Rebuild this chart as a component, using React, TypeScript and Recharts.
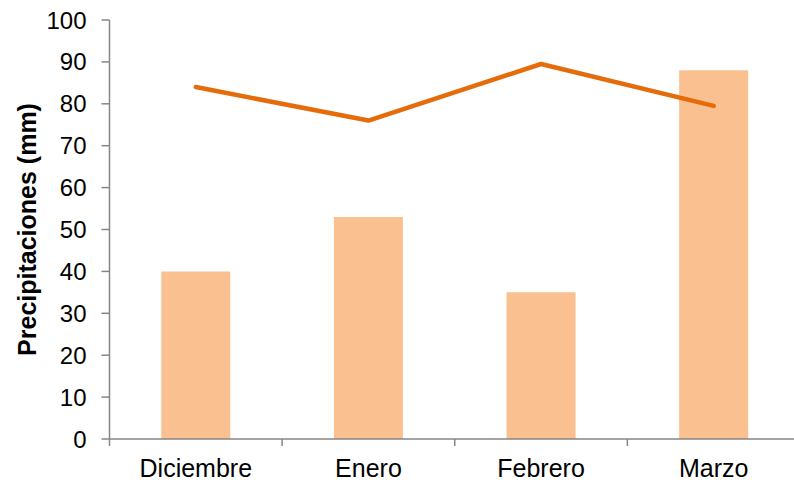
import React from "react";
import { ComposedChart, Bar, Line, XAxis, YAxis, Label } from "recharts";

const MONTHS = ["Diciembre", "Enero", "Febrero", "Marzo"];
const RAIN = [40, 53, 35, 88];
const LINE_VALUES = [84, 76, 89.5, 79.5];
const Y_TICKS = [0, 10, 20, 30, 40, 50, 60, 70, 80, 90, 100];

const data = MONTHS.map((month, i) => ({
  month,
  rain: RAIN[i],
  line: LINE_VALUES[i],
}));

const FONT = "'Liberation Sans', Arial, sans-serif";
const AXIS_GRAY = "#868686";

// category label + a small tick on the left edge of each band
function MonthTick(props: any) {
  const { x, y, payload } = props;
  const half = payload?.offset ?? 0;
  return (
    <g>
      <line x1={x - half} y1={y - 7} x2={x - half} y2={y} stroke={AXIS_GRAY} strokeWidth={1.5} />
      <text x={x} y={y + 31} textAnchor="middle" fontFamily={FONT} fontSize={25} fill="#000">
        {payload.value}
      </text>
    </g>
  );
}

function AxisTitle(props: any) {
  const vb = props.viewBox || {};
  const cy = (vb.y ?? 20) + (vb.height ?? 419) / 2;
  return (
    <text
      x={36}
      y={cy}
      transform={`rotate(-90, 36, ${cy})`}
      textAnchor="middle"
      fontFamily={FONT}
      fontWeight="bold"
      fontSize={25}
      fill="#000"
    >
      Precipitaciones (mm)
    </text>
  );
}

export default function App() {
  return (
    <div
      style={{
        position: "absolute",
        left: 0,
        top: 0,
        width: 794,
        height: 486,
        overflow: "hidden",
        background: "#fff",
      }}
    >
      <ComposedChart
        width={800}
        height={486}
        data={data}
        margin={{ top: 20, right: 0, bottom: 0, left: 0 }}
        barCategoryGap="30%"
      >
        <XAxis
          dataKey="month"
          height={47}
          axisLine={{ stroke: AXIS_GRAY, strokeWidth: 1.5 }}
          tickLine={false}
          tickSize={7}
          tickMargin={0}
          tick={<MonthTick />}
          interval={0}
        />
        <YAxis
          width={109.5}
          domain={[0, 100]}
          ticks={Y_TICKS}
          interval={0}
          axisLine={{ stroke: AXIS_GRAY, strokeWidth: 1.5 }}
          tickLine={{ stroke: AXIS_GRAY, strokeWidth: 1.5 }}
          tickSize={8}
          tickMargin={15}
          tick={{ fill: "#000", fontSize: 24, fontFamily: FONT }}
        >
          <Label content={<AxisTitle />} />
        </YAxis>
        <Bar dataKey="rain" fill="#FAC090" isAnimationActive={false} />
        <Line
          dataKey="line"
          stroke="#E46C0A"
          strokeWidth={4.5}
          strokeLinecap="round"
          strokeLinejoin="round"
          dot={false}
          activeDot={false}
          isAnimationActive={false}
        />
      </ComposedChart>
    </div>
  );
}
